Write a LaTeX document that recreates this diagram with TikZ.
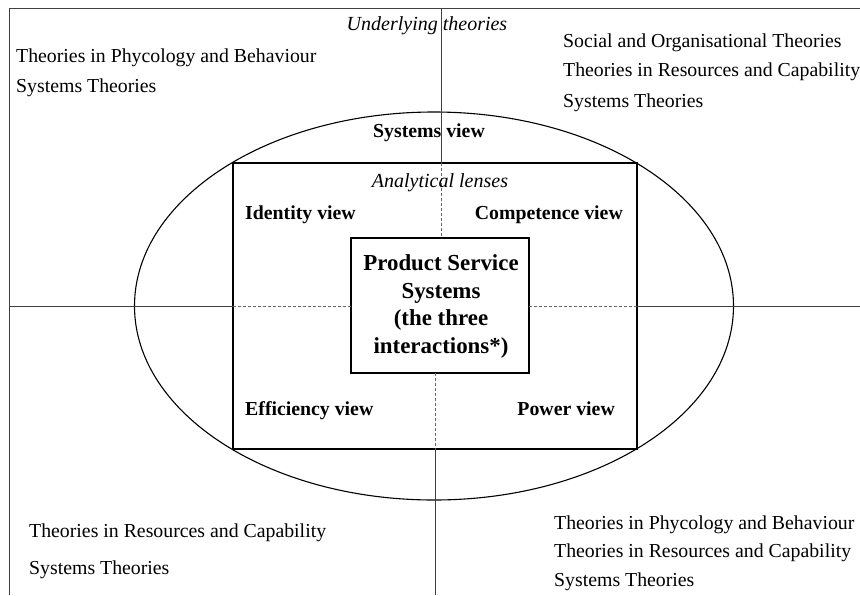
\documentclass[tikz,border=0pt]{standalone}
\usepackage{fontspec}
\setmainfont{Liberation Serif}
\usetikzlibrary{shapes.geometric}
\begin{document}
\begin{tikzpicture}[x=1pt,y=-1pt,
  axis/.style={line width=0.8pt,draw=black!75},
  dashaxis/.style={line width=0.6pt,draw=black!60,dash pattern=on 3pt off 2pt},
  theory/.style={font=\fontsize{19.8}{23}\selectfont,inner sep=0pt,anchor=west},
  viewlbl/.style={font=\fontsize{19.8}{23}\selectfont\bfseries,inner sep=0pt},
  lenslbl/.style={font=\fontsize{20}{23}\selectfont\itshape,inner sep=0pt},
  box/.style={draw,line width=1.3pt,inner sep=0pt}]
\useasboundingbox (0,0) rectangle (860,595);
% frame
\coordinate (fbl) at (9.5,595);
\coordinate (ftl) at (9.5,8.5);
\coordinate (ftr) at (860,8.5);
\draw[axis] (fbl) -- (ftl) -- (ftr);
% ellipse
\node[ellipse,draw,line width=1.1pt,minimum width=599pt,minimum height=388pt,inner sep=0pt] (ell) at (434,306) {};
% analytical lenses rectangle
\node[box,minimum width=404pt,minimum height=286pt] (lens) at (435,306) {};
% inner box
\node[box,line width=1.2pt,minimum width=178pt,minimum height=135pt] (psb) at (440,305.5) {};
% axes
\coordinate (vt) at (441,8.5);
\coordinate (vlt) at (441,163);
\coordinate (vpt) at (441,238);
\coordinate (vpb) at (435,373);
\coordinate (vlb) at (435,449);
\coordinate (vb) at (435,595);
\draw[axis] (vt) -- (vlt);
\draw[dashaxis] (vlt) -- (vpt);
\draw[dashaxis] (vpb) -- (vlb);
\draw[axis] (vlb) -- (vb);
\coordinate (hl) at (9.5,306);
\coordinate (hll) at (233,306);
\coordinate (hpl) at (351,306);
\coordinate (hpr) at (529,306);
\coordinate (hlr) at (637,306);
\coordinate (hr) at (860,306);
\draw[axis] (hl) -- (hll);
\draw[dashaxis] (hll) -- (hpl);
\draw[dashaxis] (hpr) -- (hlr);
\draw[axis] (hlr) -- (hr);
% labels
\node[lenslbl] (und) at (427,26) {Underlying theories};
\node[viewlbl] (sysv) at (429,133) {Systems view};
\node[lenslbl] (anl) at (440,183) {Analytical lenses};
\node[viewlbl,anchor=base west] (idv) at (245,219) {Identity view};
\node[viewlbl,anchor=base east] (cov) at (623,219) {Competence view};
\node[viewlbl,anchor=base west] (efv) at (245,415) {Efficiency view};
\node[viewlbl,anchor=base east] (pov) at (615,415) {Power view};
\node[font=\fontsize{22.9}{27.7}\selectfont\bfseries,align=center,inner sep=0pt] (pss) at (441,306.5)
  {Product Service\\Systems\\(the three\\interactions*)};
% theories
\node[theory] (tl1) at (16,58) {Theories in Phycology and Behaviour};
\node[theory] (tl2) at (16,88) {Systems Theories};
\node[theory] (tr1) at (563,43) {Social and Organisational Theories};
\node[theory] (tr2) at (563,72) {Theories in Resources and Capability};
\node[theory] (tr3) at (563,103) {Systems Theories};
\node[theory] (bl1) at (29,533) {Theories in Resources and Capability};
\node[theory] (bl2) at (29,570) {Systems Theories};
\node[theory] (br1) at (554,525) {Theories in Phycology and Behaviour};
\node[theory] (br2) at (554,553) {Theories in Resources and Capability};
\node[theory] (br3) at (554,582) {Systems Theories};
\end{tikzpicture}
\end{document}
